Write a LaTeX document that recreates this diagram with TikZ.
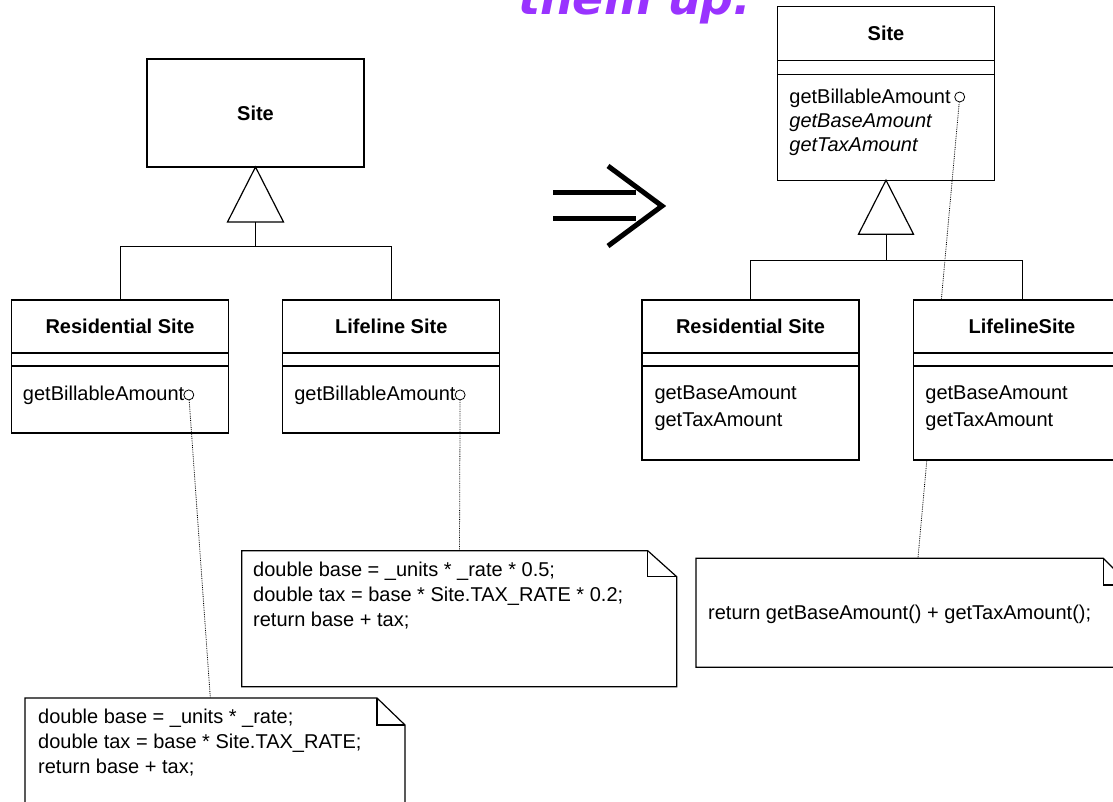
\documentclass[tikz,border=0pt]{standalone}
\usepackage{fontspec}
\setmainfont{Liberation Sans}
\newfontfamily\headfont{DejaVu Sans}
\usetikzlibrary{positioning}
\definecolor{headpurple}{RGB}{153,51,255}

\begin{document}
\begin{tikzpicture}[x=1pt, y=-1pt, font=\fontsize{20}{25}\selectfont,
    cls/.style = {draw, fill=white, line width=1.2pt, minimum width=217pt, inner sep=0pt, outer sep=0pt},
    clsname/.style = {cls, minimum height=53pt, font=\fontsize{20}{25}\selectfont\bfseries},
    attr/.style = {cls, minimum height=13pt},
    ops/.style = {cls, minimum height=67pt},
    optext/.style = {anchor=north west, inner sep=0pt, align=left},
    port/.style = {draw, circle, fill=white, line width=0.8pt, minimum size=10pt, inner sep=0pt},
    note/.style = {inner sep=0pt, outer sep=0pt},
    noteline/.style = {line width=1.2pt, line join=miter},
    link/.style = {densely dotted, line width=0.8pt},
    hier/.style = {line width=1pt}]
    \useasboundingbox (0,0) rectangle (1113,802);
    \clip (0,0) rectangle (1113,802);

    % heading, cut off at the top
    \node[anchor=base west, inner sep=0pt, text=headpurple, font=\headfont\fontsize{46}{50}\selectfont\bfseries\itshape] (head) at (518,15) {them up.};

    % before
    \node[cls, minimum height=108pt, font=\fontsize{20}{25}\selectfont\bfseries] (site) at (255.5,113) {Site};
    \draw[hier, line width=1.2pt] (site.south) -- ++(28pt,-55pt) -- ++(-56pt,0pt) -- cycle;
    \coordinate (sitebase) at ([yshift=-55pt]site.south);
    \coordinate (sitejoin) at ([yshift=-80pt]site.south);

    \node[clsname] (res) at (120,326.5) {Residential Site};
    \node[attr] (resattr) [below=0pt of res] {};
    \node[ops] (resops) [below=0pt of resattr] {};
    \node[optext] (resm) at ([xshift=11.3pt,yshift=-19.4pt]resops.north west) {getBillableAmount};
    \node[port] (resp) [right=-1pt of resm] {};

    \node[clsname] (life) at (391.3,326.5) {Lifeline Site};
    \node[attr] (lifeattr) [below=0pt of life] {};
    \node[ops] (lifeops) [below=0pt of lifeattr] {};
    \node[optext] (lifem) at ([xshift=11.3pt,yshift=-19.4pt]lifeops.north west) {getBillableAmount};
    \node[port] (lifep) [right=-1pt of lifem] {};

    \draw[hier] (sitebase) -- (sitejoin);
    \draw[hier] (sitejoin) -| (res.north);
    \draw[hier] (sitejoin) -| (life.north);

    % notes
    \node[note, minimum width=435pt, minimum height=136pt] (lifenote) at (459.2,618.7) {};
    \draw[noteline] (lifenote.north west) -- ([xshift=-29pt]lifenote.north east) -- ([yshift=-26pt]lifenote.north east) -- (lifenote.south east) -- (lifenote.south west) -- cycle;
    \draw[noteline] ([xshift=-29pt]lifenote.north east) |- ([yshift=-26pt]lifenote.north east);
    \node[optext] (lifecode) at ([xshift=11.3pt,yshift=-11.4pt]lifenote.north west) {double base = \_units * \_rate * 0.5;\\ double tax = base * Site.TAX\_RATE * 0.2;\\ return base + tax;};

    \node[note, minimum width=380pt, minimum height=132pt] (resnote) at (215,764) {};
    \draw[noteline] (resnote.north west) -- ([xshift=-28pt]resnote.north east) -- ([yshift=-27pt]resnote.north east) -- (resnote.south east) -- (resnote.south west) -- cycle;
    \draw[noteline] ([xshift=-28pt]resnote.north east) |- ([yshift=-27pt]resnote.north east);
    \node[optext] (rescode) at ([xshift=13pt,yshift=-10.7pt]resnote.north west) {double base = \_units * \_rate;\\ double tax = base * Site.TAX\_RATE;\\ return base + tax;};

    \draw[link] (resp) -- (resnote);
    \draw[link] (lifep) -- (lifenote);

    % refactoring arrow
    \draw[line width=5pt] (553,193) -- (636,193);
    \draw[line width=5pt] (553,219) -- (636,219);
    \draw[line width=5pt, line join=miter] (608,166) -- (662,206) -- (608,246);

    % after
    \node[clsname, minimum height=54pt] (asite) at (886,33.7) {Site};
    \node[attr, minimum height=13.5pt] (asiteattr) [below=0pt of asite] {};
    \node[ops, minimum height=106pt] (asiteops) [below=0pt of asiteattr] {};
    \node[optext, font=\fontsize{20}{24}\selectfont] (asitem) at ([xshift=11.7pt,yshift=-14.4pt]asiteops.north west) {getBillableAmount\\ \textit{getBaseAmount}\\ \textit{getTaxAmount}};
    \node[port] (asitep) at (959.7,97) {};
    \draw[hier, line width=1.2pt] (asiteops.south) -- ++(27.5pt,-54pt) -- ++(-55pt,0pt) -- cycle;
    \coordinate (asitebase) at ([yshift=-54pt]asiteops.south);
    \coordinate (asitejoin) at ([yshift=-80pt]asiteops.south);

    \node[note, minimum width=434pt, minimum height=109pt] (anote) at (913,612.8) {};
    \draw[noteline] (anote.north west) -- ([xshift=-26.7pt]anote.north east) -- ([yshift=-26.7pt]anote.north east) -- (anote.south east) -- (anote.south west) -- cycle;
    \draw[noteline] ([xshift=-26.7pt]anote.north east) |- ([yshift=-26.7pt]anote.north east);
    \node[optext] (acode) at ([xshift=12pt,yshift=-47pt]anote.north west) {return getBaseAmount() + getTaxAmount();};
    \draw[link] (asitep) -- (anote);

    \node[clsname] (ares) at (750.5,326.5) {Residential Site};
    \node[attr] (aresattr) [below=0pt of ares] {};
    \node[ops, minimum height=94pt] (aresops) [below=0pt of aresattr] {};
    \node[optext] (aresm) at ([xshift=12.3pt,yshift=-19.4pt]aresops.north west) {getBaseAmount\\[2.5pt] getTaxAmount};

    \node[clsname] (alife) at (1022,326.5) {LifelineSite};
    \node[attr] (alifeattr) [below=0pt of alife] {};
    \node[ops, minimum height=94pt] (alifeops) [below=0pt of alifeattr] {};
    \node[optext] (alifem) at ([xshift=11.7pt,yshift=-19.4pt]alifeops.north west) {getBaseAmount\\[2.5pt] getTaxAmount};

    \draw[hier] (asitebase) -- (asitejoin);
    \draw[hier] (asitejoin) -| (ares.north);
    \draw[hier] (asitejoin) -| (alife.north);
\end{tikzpicture}
\end{document}
